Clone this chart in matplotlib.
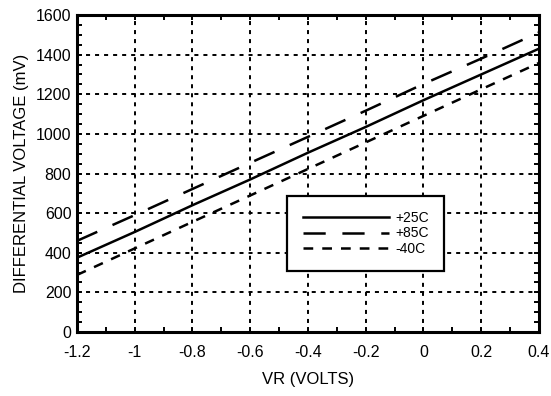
import numpy as np
import matplotlib
matplotlib.use("Agg")
import matplotlib.pyplot as plt
from matplotlib.ticker import MultipleLocator

plt.rcParams['font.family'] = ['Liberation Sans', 'DejaVu Sans']
plt.rcParams['lines.scale_dashes'] = False

# valores
vr = [-1.2, -1.0, -0.8, -0.6, -0.4, -0.2, 0.0, 0.2, 0.4]
v_25c = [375, 505, 640, 770, 905, 1035, 1170, 1300, 1430]
v_85c = [460, 590, 722, 854, 985, 1117, 1252, 1380, 1512]
v_m40c = [288, 422, 556, 689, 823, 957, 1091, 1225, 1358]

xticks = [-1.2, -1.0, -0.8, -0.6, -0.4, -0.2, 0.0, 0.2, 0.4]
xtick_labels = ["-1.2", "-1", "-0.8", "-0.6", "-0.4", "-0.2", "0", "0.2", "0.4"]
yticks = [0, 200, 400, 600, 800, 1000, 1200, 1400, 1600]

fig = plt.figure(figsize=(5.51, 3.96), dpi=100)
ax = fig.add_axes([0.1397, 0.1616, 0.978 - 0.1397, 0.962 - 0.1616])

ax.plot(vr, v_25c, color="black", lw=1.8, label="+25C")
ax.plot(vr, v_85c, color="black", lw=1.8, dashes=(16, 12), label="+85C")
ax.plot(vr, v_m40c, color="black", lw=1.8, dashes=(7, 6.5), label="-40C")

ax.set_xlim(-1.2, 0.4)
ax.set_ylim(0, 1600)
ax.set_xticks(xticks)
ax.set_xticklabels(xtick_labels)
ax.set_yticks(yticks)
ax.xaxis.set_minor_locator(MultipleLocator(0.1))
ax.yaxis.set_minor_locator(MultipleLocator(50))

ax.grid(True, which="major", color="black", lw=1.4, dashes=(2.9, 3.6))
ax.tick_params(which="both", direction="in", top=True, right=True,
               width=1.4, length=3.5, labelsize=11.5)
ax.tick_params(axis="x", which="major", pad=9)
ax.tick_params(axis="y", which="major", pad=4)
for s in ax.spines.values():
    s.set_linewidth(2.2)

ax.set_xlabel("VR (VOLTS)", fontsize=12, labelpad=9)
ax.set_ylabel("DIFFERENTIAL VOLTAGE (mV)", fontsize=12, labelpad=5)

leg = ax.legend(loc="center", bbox_to_anchor=(0.625, 0.311), fontsize=10,
                handlelength=6.2, handletextpad=0.45, labelspacing=0.1,
                borderpad=1.1, fancybox=False, framealpha=1, edgecolor="black")
leg.get_frame().set_linewidth(1.6)

plt.savefig("out.png", dpi=100)
